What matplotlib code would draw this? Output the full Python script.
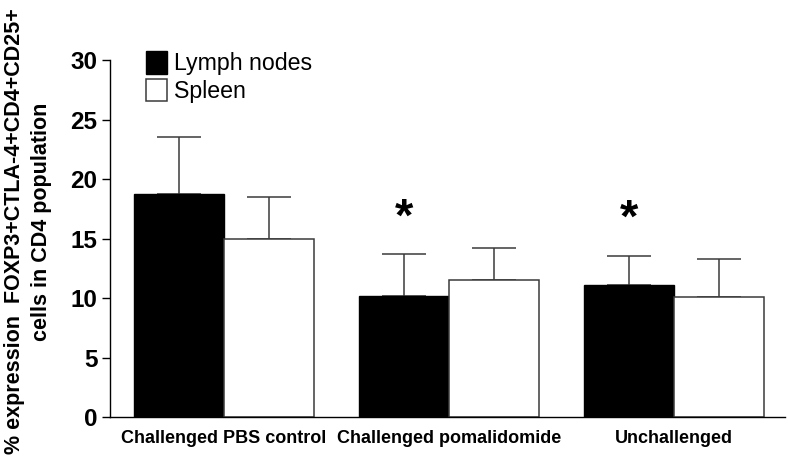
import numpy as np
import matplotlib
matplotlib.use('Agg')
import matplotlib.pyplot as plt

plt.rcParams['font.family'] = ['Liberation Sans', 'DejaVu Sans']

# data
groups = ['Challenged PBS control', 'Challenged pomalidomide', 'Unchallenged']
lymph = [18.7, 10.2, 11.1]
lymph_err = [4.8, 3.5, 2.45]
spleen = [15.0, 11.5, 10.1]
spleen_err = [3.5, 2.7, 3.2]
significant = [False, True, True]

fig = plt.figure(figsize=(7.88, 4.62), dpi=100)
ax = fig.add_axes([0.1396, 0.0974, 0.856, 0.7727])

x = np.arange(len(groups))
w = 0.4
err_kw = dict(ecolor='#3a3a3a', elinewidth=1.1, capsize=16, capthick=1.1)

ax.bar(x - w / 2, lymph, w, color='black', edgecolor='black', linewidth=1,
       label='Lymph nodes', zorder=2)
ax.errorbar(x - w / 2, lymph, yerr=[np.zeros(3), lymph_err], fmt='none', zorder=1, **err_kw)
ax.bar(x + w / 2, spleen, w, color='white', edgecolor='#3a3a3a', linewidth=1.1,
       label='Spleen', zorder=2)
ax.errorbar(x + w / 2, spleen, yerr=[np.zeros(3), spleen_err], fmt='none', zorder=1, **err_kw)

# significance markers over lymph node bars
for i, sig in enumerate(significant):
    if sig:
        ax.text(x[i] - w / 2, lymph[i] + lymph_err[i] + 3.0, '*', ha='center', va='center',
                fontsize=34, fontweight='bold')

ax.set_xlim(-0.507, 2.493)
ax.set_ylim(0, 30)
ax.set_yticks(range(0, 31, 5))
ax.set_xticks(x)
ax.set_xticklabels(groups, fontsize=13, fontweight='bold')
ax.tick_params(axis='x', length=0, pad=9)
ax.tick_params(axis='y', length=6, width=1, labelsize=17.5, pad=3)
for lab in ax.get_yticklabels():
    lab.set_fontweight('bold')

for s in ['top', 'right']:
    ax.spines[s].set_visible(False)
ax.spines['left'].set_linewidth(1)
ax.spines['bottom'].set_linewidth(1)

fig.text(15 / 788, 0.5, '% expression  FOXP3+CTLA-4+CD4+CD25+', rotation=90,
         ha='center', va='center', fontsize=15.5, fontweight='bold')
fig.text(42 / 788, 1 - 222 / 462, 'cells in CD4 population', rotation=90,
         ha='center', va='center', fontsize=15.5, fontweight='bold')

ax.legend(loc='upper left', bbox_to_anchor=(0.04, 1.05), frameon=False, fontsize=16.7,
          handlelength=0.9, handleheight=1.1, handletextpad=0.3, labelspacing=0.15,
          borderaxespad=0)

fig.savefig('out.png', dpi=100)
